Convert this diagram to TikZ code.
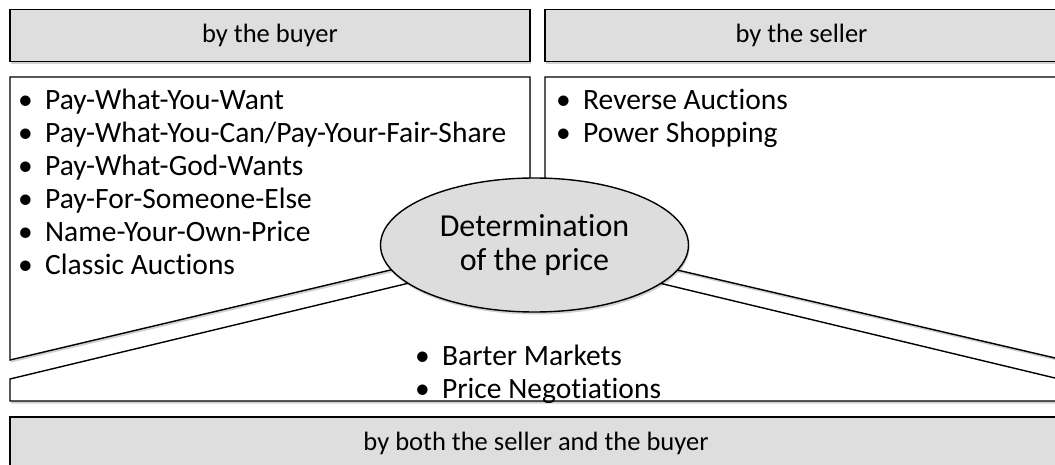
\documentclass[tikz,border=0pt]{standalone}
\usepackage{fontspec}
\setmainfont{Carlito}[Ligatures={NoCommon}]
\usetikzlibrary{shapes.geometric,shadows}

\definecolor{headgray}{HTML}{DEDEDE}
\definecolor{coregray}{HTML}{DDDDDD}

\newcommand{\bitem}[1]{\makebox[27pt][l]{\textbullet}#1}

\tikzset{
  soft/.style={drop shadow={shadow xshift=1pt, shadow yshift=-2.5pt,
      opacity=0.18, fill=black}},
  head/.style={draw=black, line width=1.4pt, fill=headgray, inner sep=0pt,
      minimum height=52pt, font=\fontsize{26.5}{30}\selectfont, soft},
  region/.style={draw=black, line width=1.4pt, fill=white, line join=miter, soft},
  itemlist/.style={align=left, inner sep=0pt, anchor=north west,
      font=\fontsize{29.5}{33}\selectfont},
}

\begin{document}
\begin{tikzpicture}[x=1pt, y=-1pt]
  \useasboundingbox (0,0) rectangle (1055,465);
  \clip (0,0) rectangle (1055,465);

  % three white areas split by the wedges
  \draw[region] (10,77) -- (530,77) -- (530,237) -- (10,360) -- cycle;
  \draw[region] (545,77) -- (1062,77) -- (1062,359.6) -- (545,239.2) -- cycle;
  \draw[region] (10,379) -- (534,253) -- (1062,379.7) -- (1062,401) -- (10,401) -- cycle;

  % headers
  \node[head, minimum width=520pt] (buyerhead) at (270,35.5) {by the buyer};
  \node[head, minimum width=513pt] (sellerhead) at (801.5,35.5) {by the seller};
  \node[head, minimum width=1052pt, minimum height=53pt] (bothhead) at (536,443.5)
    {by both the seller and the buyer};

  % lists
  \node[itemlist] (buyerlist) at (18,89) {%
    \bitem{Pay-What-You-Want}\\
    \bitem{Pay-What-You-Can/Pay-Your-Fair-Share}\\
    \bitem{Pay-What-God-Wants}\\
    \bitem{Pay-For-Someone-Else}\\
    \bitem{Name-Your-Own-Price}\\
    \bitem{Classic Auctions}};
  \node[itemlist] (sellerlist) at (556,89) {%
    \bitem{Reverse Auctions}\\
    \bitem{Power Shopping}};
  \node[itemlist] (bothlist) at (415,345) {%
    \bitem{Barter Markets}\\
    \bitem{Price Negotiations}};

  % centre
  \node[ellipse, draw=black, line width=1.4pt, fill=coregray, soft,
        minimum width=308pt, minimum height=134pt, inner sep=0pt, align=center,
        font=\fontsize{32}{34}\selectfont] (price) at (534.5,245)
    {Determination\\of the price};
\end{tikzpicture}
\end{document}
